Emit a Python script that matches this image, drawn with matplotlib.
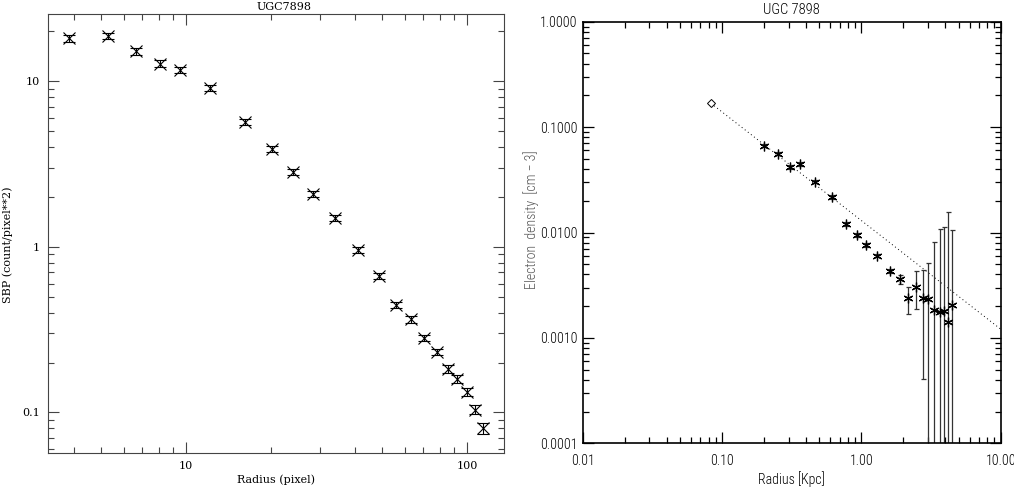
import numpy as np
import matplotlib
matplotlib.use("Agg")
import matplotlib.pyplot as plt
from matplotlib import font_manager
from matplotlib.ticker import FixedLocator, FixedFormatter, LogLocator, NullFormatter

# surface brightness profile (left)
radius_pix = [3.83, 5.27, 6.66, 8.10, 9.52, 12.17, 16.26, 20.2, 24.1, 28.3, 33.9,
              41.1, 48.6, 55.9, 63.2, 70.5, 78.0, 85.4, 92.4, 99.8, 106.7, 113.7]
sbp = [18.2, 18.8, 15.2, 12.8, 11.7, 9.08, 5.70, 3.89, 2.82, 2.09, 1.50,
       0.955, 0.668, 0.445, 0.364, 0.282, 0.232, 0.183, 0.159, 0.133, 0.104, 0.080]
sbp_err = [0.9, 0.9, 0.75, 0.6, 0.55, 0.4, 0.25, 0.17, 0.12, 0.09, 0.065,
           0.042, 0.03, 0.02, 0.017, 0.013, 0.011, 0.009, 0.008, 0.0075, 0.0065, 0.006]

# electron density profile (right)
radius_kpc = [0.200, 0.2535, 0.309, 0.361, 0.466, 0.618, 0.776, 0.931, 1.084, 1.30, 1.593,
              1.89, 2.175, 2.47, 2.75, 3.03, 3.34, 3.64, 3.89, 4.21, 4.50]
dens = [0.0669, 0.0559, 0.0418, 0.0447, 0.0303, 0.0217, 0.01197, 0.00947, 0.00766, 0.00605, 0.00431,
        0.00360, 0.00237, 0.00307, 0.00241, 0.00234, 0.00184, 0.00175, 0.00180, 0.00141, 0.00203]
dens_err = [0.002, 0.002, 0.0015, 0.0015, 0.001, 0.0008, 0.0005, 0.0004, 0.0003, 0.00025, 0.0002,
            0.00035, 0.0007, 0.0012, 0.0020, 0.0028, 0.0062, 0.0091, 0.0094, 0.0143, 0.0085]
center_x = [0.0834]
center_y = [0.168]
fit_x = [0.0834, 10.0]
fit_y = [0.168, 0.00121]

left_xticks = [10, 100]
left_xlabels = ["10", "100"]
left_yticks = [0.1, 1, 10]
left_ylabels = ["0.1", "1", "10"]
right_xticks = [0.01, 0.1, 1.0, 10.0]
right_xlabels = ["0.01", "0.10", "1.00", "10.00"]
right_yticks = [0.0001, 0.001, 0.01, 0.1, 1.0]
right_ylabels = ["0.0001", "0.0010", "0.0100", "0.1000", "1.0000"]

# the right panel uses a narrow font; take a condensed one if present
narrow, nsize, nweight = "Liberation Sans", 9, "normal"
for name in ["Liberation Sans Narrow", "DejaVu Sans Condensed", "Roboto Condensed"]:
    try:
        font_manager.findfont(name, fallback_to_default=False)
        narrow, nsize, nweight = name, 10, "light"
        break
    except Exception:
        pass
serif = "DejaVu Serif"

W, H = 1014, 488
fig = plt.figure(figsize=(W / 100, H / 100), dpi=100)

def box(x0, y0, x1, y1):
    return [x0 / W, 1 - y1 / H, (x1 - x0) / W, (y1 - y0) / H]

frame_col = "#444444"

# ---- left panel ----
ax1 = fig.add_axes(box(48, 14, 504, 453))
ax1.set_xscale("log")
ax1.set_yscale("log")
ax1.errorbar(radius_pix, sbp, yerr=sbp_err, fmt="x", color="black", ms=8, mew=0.8,
             elinewidth=0.8, capsize=4.5, capthick=0.8)
ax1.set_xlim(3.23, 135.5)
ax1.set_ylim(0.0568, 25.5)
ax1.xaxis.set_major_locator(FixedLocator(left_xticks))
ax1.xaxis.set_major_formatter(FixedFormatter(left_xlabels))
ax1.yaxis.set_major_locator(FixedLocator(left_yticks))
ax1.yaxis.set_major_formatter(FixedFormatter(left_ylabels))
ax1.xaxis.set_minor_locator(LogLocator(base=10, subs=np.arange(2, 10)))
ax1.yaxis.set_minor_locator(LogLocator(base=10, subs=np.arange(2, 10)))
ax1.xaxis.set_minor_formatter(NullFormatter())
ax1.yaxis.set_minor_formatter(NullFormatter())
ax1.tick_params(which="both", direction="in", top=True, right=True, color=frame_col, width=0.8,
                labelsize=8, pad=6)
ax1.tick_params(which="major", length=8)
ax1.tick_params(which="minor", length=4)
for lab in ax1.get_xticklabels() + ax1.get_yticklabels():
    lab.set_family(serif)
for s in ax1.spines.values():
    s.set_color(frame_col)
    s.set_linewidth(0.8)
fig.text(284 / W, 1 - 7 / H, "UGC7898", ha="center", va="center", family=serif, fontsize=8)
fig.text(276 / W, 1 - 480 / H, "Radius (pixel)", ha="center", va="center", family=serif, fontsize=8)
fig.text(8 / W, 1 - 245 / H, "SBP (count/pixel**2)", ha="center", va="center", rotation=90,
         family=serif, fontsize=8)

# ---- right panel ----
ax2 = fig.add_axes(box(582.7, 21.7, 1000.7, 443.3))
ax2.set_xscale("log")
ax2.set_yscale("log")
ax2.plot(fit_x, fit_y, linestyle=(0, (1, 3)), color="black", lw=0.7)
ax2.errorbar(radius_kpc, dens, yerr=dens_err, fmt="none", ecolor="#333333", elinewidth=0.9,
             capsize=1.8, capthick=0.9)
ax2.plot(radius_kpc, dens, linestyle="none", marker=(6, 2, 0), ms=7, mew=0.9, color="black")
ax2.plot(center_x, center_y, linestyle="none", marker="D", ms=4.5, mfc="white", mec="black", mew=0.7)
ax2.set_xlim(0.01, 10.0)
ax2.set_ylim(0.0001, 1.0)
ax2.xaxis.set_major_locator(FixedLocator(right_xticks))
ax2.xaxis.set_major_formatter(FixedFormatter(right_xlabels))
ax2.yaxis.set_major_locator(FixedLocator(right_yticks))
ax2.yaxis.set_major_formatter(FixedFormatter(right_ylabels))
ax2.xaxis.set_minor_locator(LogLocator(base=10, subs=np.arange(2, 10)))
ax2.yaxis.set_minor_locator(LogLocator(base=10, subs=np.arange(2, 10)))
ax2.xaxis.set_minor_formatter(NullFormatter())
ax2.yaxis.set_minor_formatter(NullFormatter())
ax2.tick_params(which="both", direction="in", top=True, right=True, color="black", width=0.9,
                labelsize=nsize, pad=4)
ax2.tick_params(which="major", length=8)
ax2.tick_params(which="minor", length=4)
ax2.tick_params(axis="x", pad=8)
for lab in ax2.get_xticklabels() + ax2.get_yticklabels():
    lab.set_family(narrow)
    lab.set_weight(nweight)
for s in ax2.spines.values():
    s.set_color("black")
    s.set_linewidth(1.2)
fig.text(791.7 / W, 1 - 10 / H, "UGC 7898", ha="center", va="center", family=narrow,
         weight=nweight, fontsize=nsize + 0.5)
fig.text(791.7 / W, 1 - 479 / H, "Radius [Kpc]", ha="center", va="center", family=narrow,
         weight=nweight, fontsize=nsize)
fig.text(531 / W, 1 - 220 / H, "Electron  density  [cm \u2212 3]", ha="center", va="center",
         rotation=90, family=narrow, weight=nweight, fontsize=nsize, color="#555555")

fig.savefig("out.png", dpi=100)
